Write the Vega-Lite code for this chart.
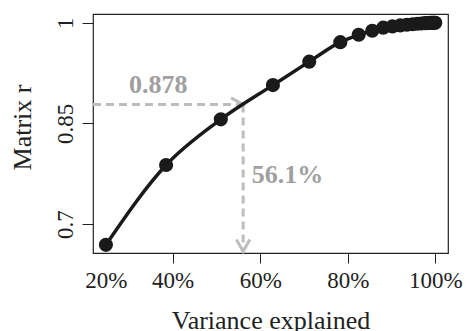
{
  "$schema": "https://vega.github.io/schema/vega-lite/v6.json",
  "width": 355,
  "height": 239,
  "autosize": {"type": "none"},
  "padding": {"left": 93, "top": 14, "right": 21, "bottom": 78},
  "background": "white",
  "config": {
    "view": {"stroke": "#222222", "strokeWidth": 1.2},
    "font": "Liberation Serif"
  },
  "datasets": {
    "pts": [
      {"v": 24.75, "r": 0.669},
      {"v": 38.5, "r": 0.788},
      {"v": 51.0, "r": 0.856},
      {"v": 62.9, "r": 0.907},
      {"v": 71.2, "r": 0.942},
      {"v": 78.3, "r": 0.971},
      {"v": 82.5, "r": 0.982},
      {"v": 85.6, "r": 0.988},
      {"v": 88.1, "r": 0.9926},
      {"v": 90.2, "r": 0.9945},
      {"v": 92.0, "r": 0.996},
      {"v": 93.5, "r": 0.997},
      {"v": 94.8, "r": 0.9978},
      {"v": 95.9, "r": 0.9984},
      {"v": 96.8, "r": 0.9989},
      {"v": 97.6, "r": 0.9993},
      {"v": 98.2, "r": 0.9995},
      {"v": 98.7, "r": 0.9997},
      {"v": 99.1, "r": 0.9998},
      {"v": 99.4, "r": 0.9999},
      {"v": 99.65, "r": 1.0},
      {"v": 99.85, "r": 1.0},
      {"v": 100, "r": 1.0}
    ]
  },
  "encoding": {
    "x": {
      "type": "quantitative",
      "scale": {"domain": [21.8, 102.9], "nice": false, "zero": false},
      "axis": {
        "title": "Variance explained",
        "values": [24.75, 40, 60, 80, 100],
        "labelExpr": "datum.value < 30 ? '20%' : datum.value + '%'",
        "domain": false,
        "grid": false,
        "tickSize": 10,
        "tickColor": "#222222",
        "tickOpacity": {"condition": {"test": "datum.value < 30", "value": 0}, "value": 1},
        "labelFont": "Liberation Serif",
        "labelFontSize": 23,
        "labelColor": "#222222",
        "labelBaseline": "alphabetic",
        "labelPadding": 24,
        "labelFlush": false,
        "labelOverlap": false,
        "labelBound": false,
        "titleFont": "Liberation Serif",
        "titleFontSize": 26,
        "titleFontWeight": "normal",
        "titleColor": "#222222",
        "titleBaseline": "alphabetic",
        "titleY": 75
      }
    },
    "y": {
      "type": "quantitative",
      "scale": {"domain": [0.6568, 1.013], "nice": false, "zero": false},
      "axis": {
        "title": "Matrix r",
        "values": [0.7, 0.85, 1],
        "labelExpr": "datum.value == 1 ? '1' : format(datum.value, '.2~f')",
        "domain": false,
        "grid": false,
        "tickSize": 11,
        "tickColor": "#222222",
        "labelFont": "Liberation Serif",
        "labelFontSize": 23,
        "labelColor": "#222222",
        "labelAngle": -90,
        "labelAlign": "center",
        "labelBaseline": "alphabetic",
        "labelPadding": 10,
        "labelFlush": false,
        "labelOverlap": false,
        "labelBound": false,
        "titleFont": "Liberation Serif",
        "titleFontSize": 26,
        "titleFontWeight": "normal",
        "titleColor": "#222222",
        "titleAngle": -90,
        "titleAlign": "center",
        "titleBaseline": "alphabetic",
        "titleX": -63,
        "titleY": 113
      }
    }
  },
  "layer": [
    {
      "data": {"values": [
        {"x": 21.8, "x2": 56.1, "y": 0.878, "y2": 0.878},
        {"x": 56.1, "x2": 56.1, "y": 0.878, "y2": 0.659}
      ]},
      "mark": {"type": "rule", "color": "#bdbdbd", "strokeWidth": 3, "strokeDash": [8, 5]},
      "encoding": {
        "x": {"field": "x", "type": "quantitative"},
        "x2": {"field": "x2"},
        "y": {"field": "y", "type": "quantitative"},
        "y2": {"field": "y2"}
      }
    },
    {
      "data": {"values": [{"x": 56.1, "y": 0.878}]},
      "mark": {"type": "point", "shape": "M-1.8,-1L0,0L-1.8,1", "filled": false, "stroke": "#bdbdbd", "strokeWidth": 3, "size": 180, "opacity": 1},
      "encoding": {
        "x": {"field": "x", "type": "quantitative"},
        "y": {"field": "y", "type": "quantitative"}
      }
    },
    {
      "data": {"values": [{"x": 56.1, "y": 0.659}]},
      "mark": {"type": "point", "shape": "M-1,-1.8L0,0L1,-1.8", "filled": false, "stroke": "#bdbdbd", "strokeWidth": 3, "size": 180, "opacity": 1},
      "encoding": {
        "x": {"field": "x", "type": "quantitative"},
        "y": {"field": "y", "type": "quantitative"}
      }
    },
    {
      "data": {"name": "pts"},
      "mark": {"type": "line", "color": "#1a1a1a", "strokeWidth": 3.5, "interpolate": "monotone"},
      "encoding": {
        "x": {"field": "v", "type": "quantitative"},
        "y": {"field": "r", "type": "quantitative"}
      }
    },
    {
      "data": {"name": "pts"},
      "mark": {"type": "point", "filled": true, "color": "#1a1a1a", "size": 200, "opacity": 1},
      "encoding": {
        "x": {"field": "v", "type": "quantitative"},
        "y": {"field": "r", "type": "quantitative"}
      }
    },
    {
      "data": {"values": [{"x": 36.7, "y": 0.8957, "t": "0.878"}]},
      "mark": {"type": "text", "font": "Liberation Serif", "fontSize": 26, "fontWeight": "bold", "color": "#a0a0a0", "align": "center", "baseline": "alphabetic"},
      "encoding": {
        "x": {"field": "x", "type": "quantitative"},
        "y": {"field": "y", "type": "quantitative"},
        "text": {"field": "t"}
      }
    },
    {
      "data": {"values": [{"x": 58.07, "y": 0.7608, "t": "56.1%"}]},
      "mark": {"type": "text", "font": "Liberation Serif", "fontSize": 26, "fontWeight": "bold", "color": "#a0a0a0", "align": "left", "baseline": "alphabetic"},
      "encoding": {
        "x": {"field": "x", "type": "quantitative"},
        "y": {"field": "y", "type": "quantitative"},
        "text": {"field": "t"}
      }
    }
  ]
}
